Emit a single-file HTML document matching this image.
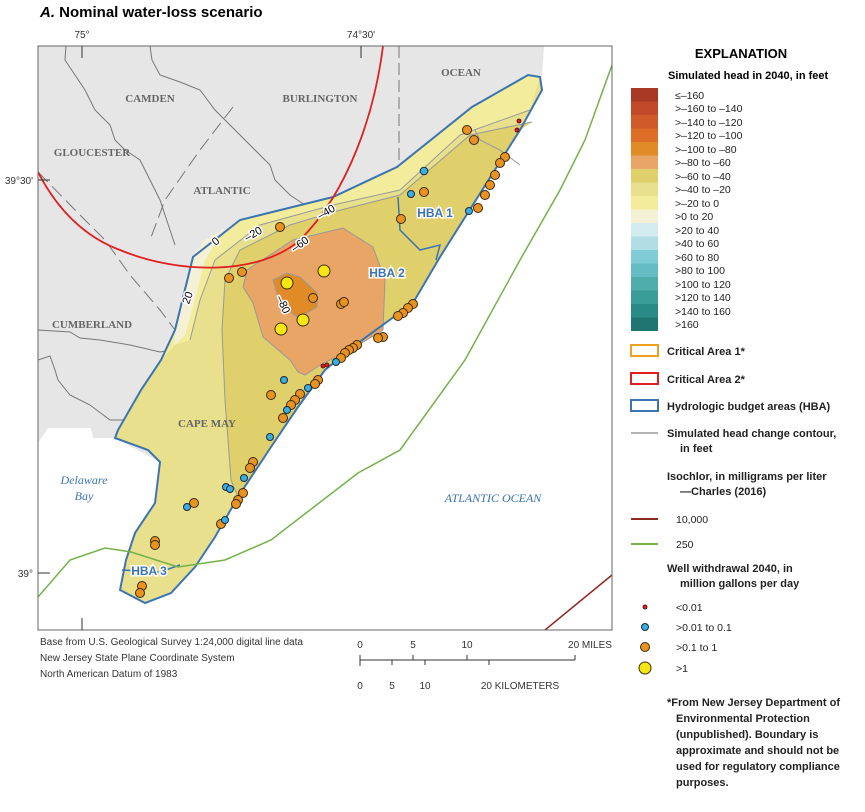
<!DOCTYPE html>
<html><head><meta charset="utf-8"><style>
body{margin:0;background:#fff;width:865px;height:812px;overflow:hidden;font-family:"Liberation Sans",sans-serif;}
svg{position:absolute;left:0;top:0}
</style></head><body>
<svg width="865" height="812" viewBox="0 0 865 812" xmlns="http://www.w3.org/2000/svg">
<text x="40" y="17" font-size="15" font-weight="bold" font-family="Liberation Sans"><tspan font-style="italic">A.</tspan>  Nominal water-loss scenario</text>
<text x="82" y="38" font-size="10" text-anchor="middle" fill="#333">75°</text>
<text x="361" y="38" font-size="10" text-anchor="middle" fill="#333">74°30'</text>
<defs><clipPath id="fr"><rect x="38" y="46" width="574" height="584"/></clipPath></defs>
<g clip-path="url(#fr)">
<rect x="38" y="46" width="574" height="584" fill="#fff"/>
<!-- land -->
<polygon fill="#e6e6e6" points="38,46 544,46 542,77 520,130 440,257 413,303 358,343 300,380 200,440 160,462 115,438 93,438 91,428 48,428 38,443"/>
<!-- county lines -->
<g fill="none" stroke="#777" stroke-width="1">
<polyline points="66,46 65,60 75,75 85,90 95,110 110,125 115,140 125,150 140,160 150,180 160,200 165,215 170,230 175,245"/>
<polyline points="150,46 152,60 160,75 180,82 200,90 215,110 230,125 245,140 260,155 270,165 275,180 290,195 305,205 325,215"/>
<polyline points="399,46 399,167" stroke-dasharray="12,5"/>
<polyline points="233,107 200,150 165,200 150,240" stroke-dasharray="14,6"/>
<polyline points="38,172 80,215 105,240 130,275 160,310 175,330" stroke-dasharray="14,6"/>
<polyline points="38,330 70,332 80,338 100,340 130,345 160,352 171,350"/>
<polyline points="38,360 50,356 55,370 58,380 70,395 90,405 110,420 130,420 150,400"/>
<polyline points="170,360 180,365 200,370 240,372 270,378 290,372 300,378"/>
<polyline points="145,450 155,430 160,400 160,380"/>
</g>
<!-- HBA fill -->
<polygon id="hba" fill="#e8e08c" points="540,77 542,90 520,130 440,257 413,303 358,343 325,370 298,407 271,447 238,497 215,537 195,567 171,593 145,603 120,590 126,560 135,533 155,503 160,462 148,450 115,438 118,430 141,390 161,360 175,330 193,257 240,220 333,197 397,167 472,107 528,75"/>
<polygon fill="#f3ec9c" points="540,77 530,110 460,135 400,190 333,205 260,225 215,260 200,300 190,340 175,345 161,360 175,330 193,257 240,220 333,197 397,167 472,107 528,75"/>
<polygon fill="#f5f1d6" points="193,257 205,240 225,228 205,260 195,300 185,335 175,345 175,330"/>
<polygon fill="#dfd06c" points="532,122 470,135 400,195 333,212 290,225 240,250 225,280 222,330 225,400 231,480 238,497 271,447 298,407 325,370 358,343 413,303 440,257 520,130"/>
<polygon fill="#e8a565" stroke="#999" stroke-width="1" points="243,287 247,270 293,240 343,228 373,247 385,280 383,330 350,350 320,365 305,375 298,372 290,360 263,337 253,303"/>
<polygon fill="#e08a28" stroke="#999" stroke-width="1" points="273,280 287,273 300,277 317,293 317,307 307,313 297,317 280,303"/>
<g fill="none" stroke="#999" stroke-width="1">
<polyline points="532,122 470,135 400,195 333,212 290,225 240,250 225,280 222,330 225,400 231,480 238,497"/>
<polyline points="530,110 460,135 400,190 333,205 260,225 215,260 200,300 190,340"/>
<polyline points="475,130 480,140 500,150 520,165"/>
</g>
<polygon fill="none" stroke="#3b74b0" stroke-width="2" points="540,77 542,90 520,130 440,257 413,303 358,343 325,370 298,407 271,447 238,497 215,537 195,567 171,593 145,603 120,590 126,560 135,533 155,503 160,462 148,450 115,438 118,430 141,390 161,360 175,330 193,257 240,220 333,197 397,167 472,107 528,75 540,77"/>
<polyline fill="none" stroke="#3b74b0" stroke-width="1.5" points="398,197 400,230 420,250 440,245 436,260"/>
<polyline fill="none" stroke="#3b74b0" stroke-width="1.5" points="122,570 160,572 180,565"/>
<!-- isochlors -->
<path d="M612,65 L585,140 560,190 520,260 465,360 400,450 358,473 271,540 225,560 178,567 131,552 105,548 70,560 38,597" fill="none" stroke="#74b14a" stroke-width="1.5"/>
<path d="M545,630 L612,575" fill="none" stroke="#8b2a1f" stroke-width="1.5"/>
<path d="M383,46 C375,110 350,190 300,240 C260,275 180,275 120,250 C80,235 55,205 38,172" fill="none" stroke="#e02020" stroke-width="1.8"/>
<!-- labels -->
<g font-family="Liberation Serif" font-weight="bold" font-size="11" fill="#666" text-anchor="middle">
<text x="150" y="102">CAMDEN</text><text x="320" y="102">BURLINGTON</text><text x="461" y="76">OCEAN</text>
<text x="92" y="156">GLOUCESTER</text><text x="222" y="194">ATLANTIC</text><text x="92" y="328">CUMBERLAND</text><text x="207" y="427">CAPE MAY</text>
</g>
<g font-family="Liberation Serif" font-style="italic" font-size="12" fill="#3b74b0" text-anchor="middle">
<text x="84" y="484">Delaware</text><text x="84" y="500">Bay</text><text x="493" y="502">ATLANTIC OCEAN</text>
</g>
<g font-weight="bold" font-size="12" fill="#3b74b0" stroke="#fff" stroke-width="3" paint-order="stroke" text-anchor="middle">
<text x="435" y="217">HBA 1</text><text x="387" y="277">HBA 2</text><text x="149" y="575">HBA 3</text>
</g>
<g font-size="11" fill="#000" stroke="#fff" stroke-width="3" paint-order="stroke" text-anchor="middle">
<text transform="translate(218,244) rotate(-40)">0</text>
<text transform="translate(255,237) rotate(-30)">–20</text>
<text transform="translate(328,215) rotate(-30)">–40</text>
<text transform="translate(302,247) rotate(-35)">–60</text>
<text transform="translate(191,299) rotate(-70)">20</text>
<text transform="translate(280,306) rotate(65)">–80</text>
</g>
<!-- wells -->
<g fill="#e8921f" stroke="#3a2a10" stroke-width="1">
<circle cx="467" cy="130" r="4.5"/><circle cx="474" cy="140" r="4.5"/><circle cx="505" cy="157" r="4.5"/><circle cx="500" cy="163" r="4.5"/><circle cx="495" cy="175" r="4.5"/><circle cx="490" cy="185" r="4.5"/><circle cx="485" cy="195" r="4.5"/><circle cx="478" cy="208" r="4.5"/><circle cx="424" cy="192" r="4.5"/><circle cx="401" cy="219" r="4.5"/>
<circle cx="313" cy="298" r="4.5"/><circle cx="341" cy="304" r="4.5"/><circle cx="344" cy="302" r="4.5"/><circle cx="229" cy="278" r="4.5"/><circle cx="242" cy="272" r="4.5"/><circle cx="280" cy="227" r="4.5"/>
<circle cx="413" cy="304" r="4.5"/><circle cx="408" cy="308" r="4.5"/><circle cx="403" cy="313" r="4.5"/><circle cx="398" cy="316" r="4.5"/><circle cx="383" cy="337" r="4.5"/><circle cx="378" cy="338" r="4.5"/><circle cx="357" cy="345" r="4.5"/><circle cx="353" cy="348" r="4.5"/><circle cx="349" cy="350" r="4.5"/><circle cx="345" cy="353" r="4.5"/><circle cx="341" cy="358" r="4.5"/><circle cx="318" cy="380" r="4.5"/><circle cx="315" cy="384" r="4.5"/><circle cx="300" cy="394" r="4.5"/><circle cx="295" cy="400" r="4.5"/><circle cx="291" cy="405" r="4.5"/><circle cx="271" cy="395" r="4.5"/>
<circle cx="283" cy="418" r="4.5"/><circle cx="253" cy="462" r="4.5"/><circle cx="250" cy="468" r="4.5"/><circle cx="243" cy="493" r="4.5"/><circle cx="238" cy="500" r="4.5"/><circle cx="236" cy="504" r="4.5"/><circle cx="194" cy="503" r="4.5"/><circle cx="221" cy="524" r="4.5"/><circle cx="155" cy="541" r="4.5"/><circle cx="155" cy="545" r="4.5"/><circle cx="142" cy="586" r="4.5"/><circle cx="140" cy="593" r="4.5"/>
</g>
<g fill="#3aaee0" stroke="#1a2a3a" stroke-width="1">
<circle cx="424" cy="171" r="3.8"/><circle cx="411" cy="194" r="3.5"/><circle cx="469" cy="211" r="3.5"/><circle cx="336" cy="362" r="3.5"/><circle cx="308" cy="388" r="3.5"/><circle cx="284" cy="380" r="3.5"/><circle cx="287" cy="410" r="3.5"/><circle cx="270" cy="437" r="3.5"/><circle cx="244" cy="478" r="3.5"/><circle cx="226" cy="487" r="3.5"/><circle cx="230" cy="489" r="3.5"/><circle cx="187" cy="507" r="3.5"/><circle cx="225" cy="520" r="3.5"/>
</g>
<g fill="#e02020" stroke="#400" stroke-width=".8">
<circle cx="519" cy="121" r="2"/><circle cx="517" cy="130" r="2"/><circle cx="327" cy="365" r="2"/><circle cx="323" cy="366" r="2"/>
</g>
<g fill="#f5e614" stroke="#3a3000" stroke-width="1">
<circle cx="287" cy="283" r="6"/><circle cx="324" cy="271" r="6"/><circle cx="303" cy="320" r="6"/><circle cx="281" cy="329" r="6"/>
</g>
</g>
<rect x="38" y="46" width="574" height="584" fill="none" stroke="#666" stroke-width="1"/>
<line x1="82" y1="46" x2="82" y2="58" stroke="#333"/><line x1="361" y1="46" x2="361" y2="58" stroke="#333"/>
<line x1="38" y1="180" x2="50" y2="180" stroke="#333"/><line x1="38" y1="573" x2="50" y2="573" stroke="#333"/>
<line x1="82" y1="618" x2="82" y2="630" stroke="#333"/>
<g font-size="10" fill="#333">
<text x="33" y="184" text-anchor="end">39°30'</text><text x="33" y="577" text-anchor="end">39°</text>
<text x="40" y="645">Base from U.S. Geological Survey 1:24,000 digital line data</text>
<text x="40" y="661">New Jersey State Plane Coordinate System</text>
<text x="40" y="677">North American Datum of 1983</text>
</g>
<!-- scale bar -->
<g stroke="#333" stroke-width="1" fill="none">
<line x1="360" y1="660" x2="575" y2="660"/>
<line x1="360" y1="655" x2="360" y2="666"/><line x1="413" y1="655" x2="413" y2="660"/><line x1="467" y1="655" x2="467" y2="660"/><line x1="575" y1="655" x2="575" y2="660"/>
<line x1="392" y1="660" x2="392" y2="665"/><line x1="425" y1="660" x2="425" y2="665"/><line x1="489" y1="660" x2="489" y2="665"/>
</g>
<g font-size="10" fill="#333" text-anchor="middle">
<text x="360" y="648">0</text><text x="413" y="648">5</text><text x="467" y="648">10</text><text x="590" y="648">20 MILES</text>
<text x="360" y="689">0</text><text x="392" y="689">5</text><text x="425" y="689">10</text><text x="520" y="689">20 KILOMETERS</text>
</g>
<!-- legend -->
<text x="741" y="58" font-size="13" font-weight="bold" text-anchor="middle">EXPLANATION</text>
<text x="668" y="79" font-size="11" font-weight="bold">Simulated head in 2040, in feet</text>
<g>
<rect x="631" y="88" width="27" height="14" fill="#a83a25"/>
<rect x="631" y="101.5" width="27" height="14" fill="#c0492a"/>
<rect x="631" y="115" width="27" height="14" fill="#cf5a2a"/>
<rect x="631" y="128.5" width="27" height="14" fill="#dd6e28"/>
<rect x="631" y="142" width="27" height="14" fill="#e08a28"/>
<rect x="631" y="155.5" width="27" height="14" fill="#e8a565"/>
<rect x="631" y="169" width="27" height="14" fill="#dfd06c"/>
<rect x="631" y="182.5" width="27" height="14" fill="#e8e08c"/>
<rect x="631" y="196" width="27" height="14" fill="#f3ec9c"/>
<rect x="631" y="209.5" width="27" height="14" fill="#f5f1d6"/>
<rect x="631" y="223" width="27" height="14" fill="#d4ebef"/>
<rect x="631" y="236.5" width="27" height="14" fill="#b1dde4"/>
<rect x="631" y="250" width="27" height="14" fill="#7fcbd6"/>
<rect x="631" y="263.5" width="27" height="14" fill="#65bcc4"/>
<rect x="631" y="277" width="27" height="14" fill="#4fadac"/>
<rect x="631" y="290.5" width="27" height="14" fill="#3a9d97"/>
<rect x="631" y="304" width="27" height="14" fill="#2a8a85"/>
<rect x="631" y="317.5" width="27" height="13.5" fill="#1f7570"/>
</g>
<g font-size="10.5" fill="#222">
<text x="675" y="99">≤–160</text><text x="675" y="112">&gt;–160 to –140</text><text x="675" y="126">&gt;–140 to –120</text><text x="675" y="139">&gt;–120 to –100</text><text x="675" y="153">&gt;–100 to –80</text><text x="675" y="166">&gt;–80 to –60</text><text x="675" y="180">&gt;–60 to –40</text><text x="675" y="193">&gt;–40 to –20</text><text x="675" y="207">&gt;–20 to 0</text><text x="675" y="220">&gt;0 to 20</text><text x="675" y="234">&gt;20 to 40</text><text x="675" y="247">&gt;40 to 60</text><text x="675" y="261">&gt;60 to 80</text><text x="675" y="274">&gt;80 to 100</text><text x="675" y="288">&gt;100 to 120</text><text x="675" y="301">&gt;120 to 140</text><text x="675" y="315">&gt;140 to 160</text><text x="675" y="328">&gt;160</text>
</g>
<rect x="631" y="345" width="27" height="11" fill="none" stroke="#f0a020" stroke-width="2"/>
<rect x="631" y="373" width="27" height="11" fill="none" stroke="#e02020" stroke-width="2"/>
<rect x="631" y="400" width="27" height="11" fill="none" stroke="#3b74b0" stroke-width="2"/>
<line x1="631" y1="433" x2="658" y2="433" stroke="#999" stroke-width="1.5"/>
<line x1="631" y1="519" x2="658" y2="519" stroke="#8b2a1f" stroke-width="2"/>
<line x1="631" y1="544" x2="658" y2="544" stroke="#74b14a" stroke-width="2"/>
<g font-size="11" font-weight="bold" fill="#222">
<text x="667" y="355">Critical Area 1*</text>
<text x="667" y="383">Critical Area 2*</text>
<text x="667" y="410">Hydrologic budget areas (HBA)</text>
<text x="667" y="437">Simulated head change contour,</text>
<text x="680" y="452">in feet</text>
<text x="667" y="480">Isochlor, in milligrams per liter</text>
<text x="680" y="495">—Charles (2016)</text>
<text x="667" y="572">Well withdrawal 2040, in</text>
<text x="680" y="587">million gallons per day</text>
</g>
<g font-size="10.5" fill="#222">
<text x="676" y="523">10,000</text><text x="676" y="548">250</text>
<text x="676" y="611">&lt;0.01</text><text x="676" y="631">&gt;0.01 to 0.1</text><text x="676" y="651">&gt;0.1 to 1</text><text x="676" y="672">&gt;1</text>
</g>
<circle cx="645" cy="607" r="2" fill="#e02020" stroke="#400" stroke-width=".8"/>
<circle cx="645" cy="627" r="3.5" fill="#3aaee0" stroke="#1a2a3a"/>
<circle cx="645" cy="647" r="4.5" fill="#e8921f" stroke="#3a2a10"/>
<circle cx="645" cy="668" r="6" fill="#f5e614" stroke="#3a3000"/>
<g font-size="11" font-weight="bold" fill="#222">
<text x="667" y="706">*From New Jersey Department of</text>
<text x="676" y="722">Environmental Protection</text>
<text x="676" y="738">(unpublished). Boundary is</text>
<text x="676" y="754">approximate and should not be</text>
<text x="676" y="770">used for regulatory compliance</text>
<text x="676" y="786">purposes.</text>
</g>
</svg>
</body></html>
